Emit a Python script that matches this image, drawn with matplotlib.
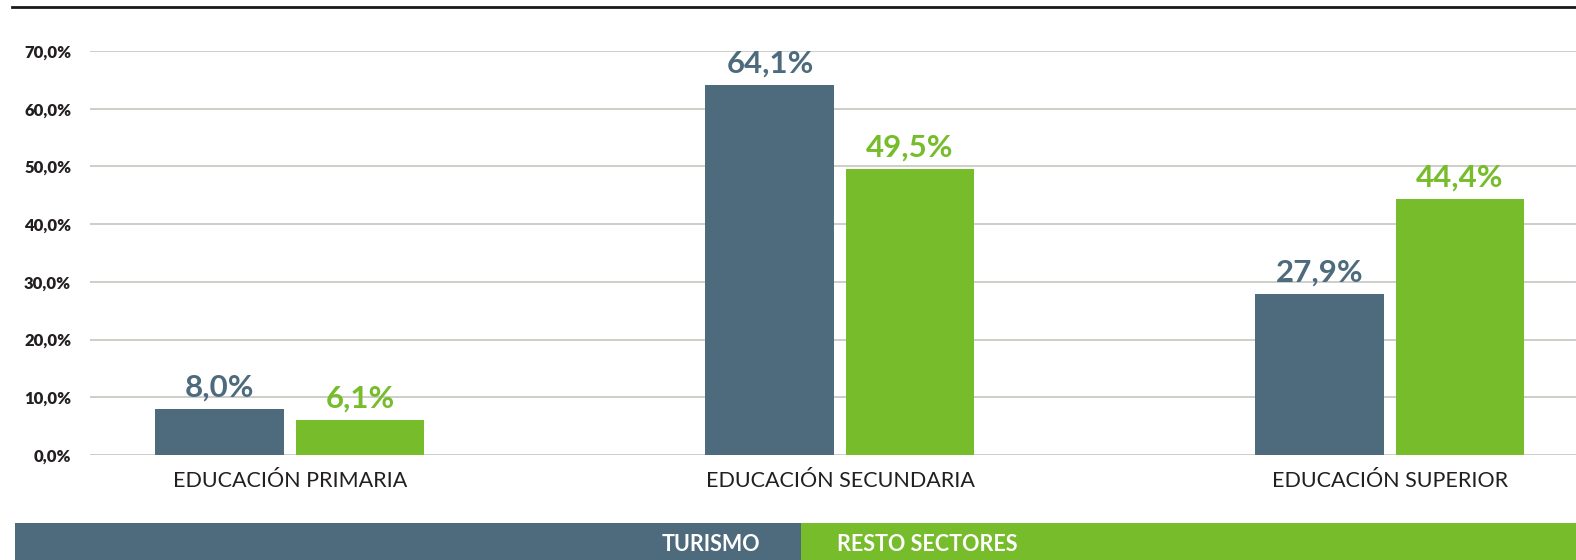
import matplotlib
matplotlib.use("Agg")
import matplotlib.pyplot as plt
from matplotlib.lines import Line2D
import numpy as np

plt.rcParams['font.family'] = ['Lato', 'DejaVu Sans']

categorias = ["EDUCACIÓN PRIMARIA", "EDUCACIÓN SECUNDARIA", "EDUCACIÓN SUPERIOR"]
turismo = [8.0, 64.1, 27.9]
resto = [6.1, 49.5, 44.4]
etiquetas_turismo = ["8,0%", "64,1%", "27,9%"]
etiquetas_resto = ["6,1%", "49,5%", "44,4%"]
yticks = [0, 10, 20, 30, 40, 50, 60, 70]
series = ["TURISMO", "RESTO SECTORES"]

azul = '#4d6b7d'
verde = '#76bc2b'
W, H = 1576, 560

fig = plt.figure(figsize=(W / 100, H / 100), dpi=100)
ax = fig.add_axes([90 / W, 1 - 455 / H, 1 - 90 / W, (455 - 51) / H])

x = np.arange(len(categorias))
ancho = 0.2345
desp = 0.1273
b1 = ax.bar(x - desp, turismo, ancho, color=azul, zorder=3)
b2 = ax.bar(x + desp, resto, ancho, color=verde, zorder=3)

for barras, labs, col in [(b1, etiquetas_turismo, azul), (b2, etiquetas_resto, verde)]:
    for b, lab in zip(barras, labs):
        ax.annotate(lab, (b.get_x() + b.get_width() / 2, b.get_height()),
                    xytext=(0, 9), textcoords='offset points', ha='center',
                    va='baseline', fontsize=22.5, fontweight='bold',
                    color=col, clip_on=False, zorder=4)

ax.set_xlim(-0.3636, 2.3382)
ax.set_ylim(0, 70)
ax.set_yticks(yticks)
ax.set_yticklabels([f"{v:.1f}%".replace('.', ',') for v in yticks],
                   fontsize=12, fontweight='heavy', color='#231f20')
ax.set_xticks(x)
ax.set_xticklabels(categorias, fontsize=15.5, color='#231f20')
ax.tick_params(axis='y', length=0, pad=13.5)
ax.tick_params(axis='x', length=0, pad=11.5)
ax.grid(axis='y', color='#c6c6c0', linewidth=1.2, zorder=0)
for s in ax.spines.values():
    s.set_visible(False)

# linea superior
fig.add_artist(Line2D([12 / W, 1], [1 - 6.5 / H, 1 - 6.5 / H], color='#1a1a1a', linewidth=2))

# leyenda en franja inferior
leg1 = fig.add_axes([15 / W, 0, (801 - 15) / W, 37 / H])
leg2 = fig.add_axes([801 / W, 0, (W - 801) / W, 37 / H])
for a, c in [(leg1, azul), (leg2, verde)]:
    a.set_facecolor(c)
    a.set_xticks([])
    a.set_yticks([])
    for s in a.spines.values():
        s.set_visible(False)
leg1.text(1 - 41 / 786, 9 / 37, series[0], transform=leg1.transAxes, ha='right',
          va='baseline', color='white', fontsize=15.5, fontweight='bold')
leg2.text(36 / 775, 9 / 37, series[1], transform=leg2.transAxes, ha='left',
          va='baseline', color='white', fontsize=15.5, fontweight='bold')

fig.savefig('out.png', dpi=100)
